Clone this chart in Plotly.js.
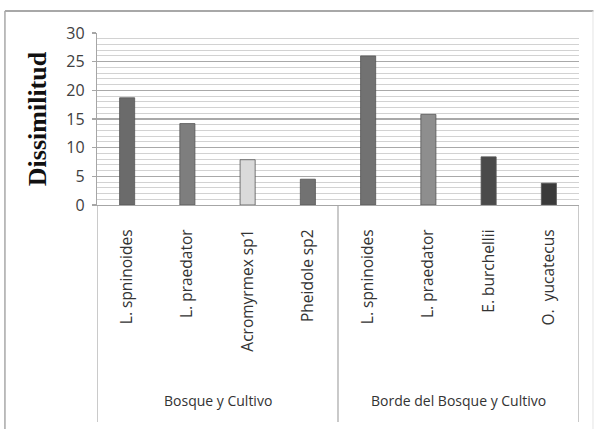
<!DOCTYPE html>
<html>
<head>
<meta charset="utf-8">
<script src="https://cdn.plot.ly/plotly-3.0.1.min.js"></script>
<style>html,body{margin:0;padding:0;background:#fff;}#chart{width:596px;height:429px;}</style>
</head>
<body>
<div id="chart"></div>
<script>
// Data
const species = ["L. spninoides", "L. praedator", "Acromyrmex sp1", "Pheidole sp2",
                 "L. spninoides", "L. praedator", "E. burchellii", "O.  yucatecus"];
const groups = ["Bosque y Cultivo", "Borde del Bosque y Cultivo"];
const groupSizes = [4, 4];
const dissimilitud = [18.7, 14.2, 7.9, 4.5, 26.0, 15.8, 8.4, 3.8];
const barColors = ["#6b6b6b", "#7e7e7e", "#dadada", "#727272", "#727272", "#8e8e8e", "#4a4a4a", "#3a3a3a"];
const yTicks = [0, 5, 10, 15, 20, 25, 30];

const pos = species.map((_, i) => i);

const trace = {
  type: "bar",
  x: pos,
  y: dissimilitud,
  width: 0.25,
  marker: {color: barColors, line: {color: "#555555", width: 0.8}},
  hoverinfo: "skip"
};

// group dividers and labels from the group sizes
const shapes = [];
const annotations = [];
let start = 0;
const lineColor = "#a6a6a6";
shapes.push({type: "line", xref: "x", yref: "paper", x0: -0.5, x1: -0.5, y0: 0, y1: -1.262, line: {color: lineColor, width: 1.2}});
groups.forEach((g, k) => {
  const end = start + groupSizes[k];
  shapes.push({type: "line", xref: "x", yref: "paper", x0: end - 0.5, x1: end - 0.5, y0: 0, y1: -1.262, line: {color: lineColor, width: 1.2}});
  annotations.push({xref: "x", yref: "paper", x: (start + end - 1) / 2, y: -1.134, text: g, showarrow: false,
    xanchor: "center", yanchor: "middle", font: {family: "Open Sans", size: 14, color: "#333333"}});
  start = end;
});
// outer chart frame
shapes.push({type: "line", xref: "paper", yref: "paper", x0: -0.191, x1: 1.03, y0: 1.128, y1: 1.128, line: {color: "#a8a8a8", width: 2}});
shapes.push({type: "line", xref: "paper", yref: "paper", x0: -0.191, x1: -0.191, y0: 1.128, y1: -1.4, line: {color: "#a8a8a8", width: 1.5}});
shapes.push({type: "line", xref: "paper", yref: "paper", x0: 1.029, x1: 1.029, y0: 1.128, y1: -1.4, line: {color: "#e4e4e4", width: 1}});

const layout = {
  width: 596, height: 429,
  margin: {l: 97, r: 17, t: 33, b: 224, pad: 0},
  paper_bgcolor: "#ffffff", plot_bgcolor: "#ffffff",
  showlegend: false,
  xaxis: {
    range: [-0.5, 7.5], tickmode: "array", tickvals: pos, ticktext: species,
    tickangle: -90, ticks: "", showgrid: false, zeroline: false,
    showline: true, linecolor: lineColor, linewidth: 1.2,
    ticklabelstandoff: 17,
    tickfont: {family: "Open Sans", size: 15.5, color: "#333333"},
    automargin: false, fixedrange: true
  },
  yaxis: {
    range: [0, 30], tickmode: "array", tickvals: yTicks,
    ticks: "outside", ticklen: 4, tickcolor: lineColor, tickwidth: 1.2,
    showline: true, linecolor: lineColor, linewidth: 1.2,
    showgrid: true, gridcolor: "#a9a9a9", gridwidth: 1.3,
    minor: {dtick: 1, showgrid: true, gridcolor: "#d2d2d2", gridwidth: 1},
    zeroline: false,
    ticklabelstandoff: 4,
    tickfont: {family: "Open Sans", size: 16, color: "#404040"},
    title: {text: "Dissimilitud", standoff: 12, font: {family: "Liberation Serif", size: 26, color: "#111111", weight: "bold"}},
    automargin: false, fixedrange: true
  },
  shapes: shapes,
  annotations: annotations
};

Plotly.newPlot("chart", [trace], layout, {displayModeBar: false, staticPlot: true});
</script>
</body>
</html>
